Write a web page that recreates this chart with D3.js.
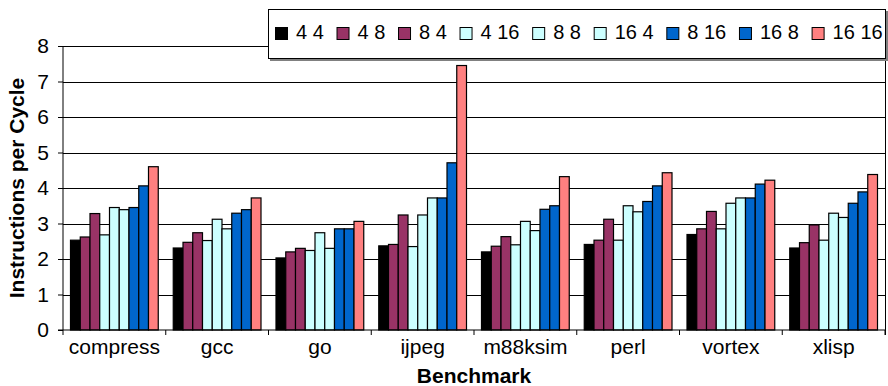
<!DOCTYPE html>
<html>
<head>
<meta charset="utf-8">
<script src="https://cdn.jsdelivr.net/npm/d3@7"></script>
<style>
  *{box-sizing: border-box;}
  body{ margin: 0; padding: 0; background: #fff; }
  svg{ display: block; font-family: "Liberation Sans", Arial, sans-serif; }
</style>
</head>
<body>
<svg id="chart" width="888" height="386"></svg>
<script>
  // benchmarks along the x axis
  const benchmarks = ['compress', 'gcc', 'go', 'ijpeg', 'm88ksim', 'perl', 'vortex', 'xlisp'];

  // legend labels, one per series
  const seriesNames = ['4 4', '4 8', '8 4', '4 16', '8 8', '16 4', '8 16', '16 8', '16 16'];
  const seriesColors = ['#000000', '#993366', '#993366', '#CCFFFF', '#CCFFFF', '#CCFFFF', '#0066CC', '#0066CC', '#FF8080'];

  // IPC per series, in benchmark order
  const s4_4   = [2.53, 2.31, 2.03, 2.37, 2.20, 2.41, 2.69, 2.31];
  const s4_8   = [2.62, 2.47, 2.20, 2.41, 2.36, 2.53, 2.85, 2.46];
  const s8_4   = [3.28, 2.74, 2.30, 3.24, 2.63, 3.12, 3.34, 2.96];
  const s4_16  = [2.68, 2.52, 2.24, 2.35, 2.40, 2.53, 2.85, 2.53];
  const s8_8   = [3.45, 3.12, 2.74, 3.24, 3.06, 3.50, 3.57, 3.29];
  const s16_4  = [3.39, 2.85, 2.30, 3.72, 2.80, 3.33, 3.72, 3.17];
  const s8_16  = [3.45, 3.29, 2.85, 3.72, 3.40, 3.62, 3.72, 3.57];
  const s16_8  = [4.06, 3.39, 2.85, 4.71, 3.50, 4.06, 4.11, 3.89];
  const s16_16 = [4.60, 3.72, 3.06, 7.45, 4.32, 4.43, 4.22, 4.38];
  const seriesValues = [s4_4, s4_8, s8_4, s4_16, s8_8, s16_4, s8_16, s16_8, s16_16];

  const yTicks = [0, 1, 2, 3, 4, 5, 6, 7, 8];

  const svg = d3.select('#chart');
  const plotL = 63, plotR = 885, plotT = 46, plotB = 330;

  const x0 = d3.scaleBand().domain(benchmarks).range([plotL, plotR]).padding(0);
  const x1 = d3.scaleBand().domain(seriesNames).range([7.5, x0.bandwidth() - 7.5]).padding(0);
  const y = d3.scaleLinear().domain([0, 8]).range([plotB, plotT]);

  // gridlines
  svg.append('g')
    .selectAll('line')
    .data(yTicks.slice(1))
    .enter()
    .append('line')
      .attr('x1', plotL).attr('x2', plotR)
      .attr('y1', d => Math.round(y(d)) + 0.5).attr('y2', d => Math.round(y(d)) + 0.5)
      .attr('stroke', '#000').attr('stroke-width', 1);

  // right border of plot
  svg.append('line')
    .attr('x1', plotR + 0.5).attr('x2', plotR + 0.5).attr('y1', plotT).attr('y2', plotB + 5)
    .attr('stroke', '#000');

  // bars
  const rows = benchmarks.map((b, i) => ({ b, vals: seriesNames.map((s, j) => ({ s, j, v: seriesValues[j][i] })) }));
  svg.append('g')
    .selectAll('g')
    .data(rows)
    .enter()
    .append('g')
      .attr('transform', d => `translate(${x0(d.b)},0)`)
    .selectAll('rect')
    .data(d => d.vals)
    .enter()
    .append('rect')
      .attr('x', d => x1(d.s))
      .attr('y', d => y(d.v))
      .attr('width', x1.bandwidth())
      .attr('height', d => y(0) - y(d.v))
      .attr('fill', d => seriesColors[d.j])
      .attr('stroke', '#000')
      .attr('stroke-width', 1.2);

  // y axis
  const yAxis = svg.append('g')
    .attr('transform', `translate(${plotL},0)`)
    .call(d3.axisLeft(y).tickValues(yTicks).tickFormat(d3.format('d')).tickSize(5).tickPadding(9));
  yAxis.select('.domain').attr('stroke', '#000').attr('d', `M-5,${plotB}H0V${plotT}`);
  yAxis.selectAll('text').attr('font-size', 21).attr('font-family', '"Liberation Sans", Arial, sans-serif').attr('fill', '#000');
  yAxis.selectAll('.tick line').attr('stroke', '#000');

  // x axis (labels centred, ticks at group boundaries)
  const xAxis = svg.append('g')
    .attr('transform', `translate(0,${plotB})`)
    .call(d3.axisBottom(x0).tickSize(0).tickPadding(9));
  xAxis.select('.domain').attr('stroke', '#000').attr('d', `M${plotL},0H${plotR}`);
  xAxis.selectAll('text').attr('font-size', 21).attr('font-family', '"Liberation Sans", Arial, sans-serif').attr('fill', '#000');
  const bounds = benchmarks.map(b => x0(b)).concat([x0.range()[1]]);
  xAxis.append('g')
    .selectAll('line')
    .data(bounds)
    .enter()
    .append('line')
      .attr('x1', d => d).attr('x2', d => d)
      .attr('y1', 0).attr('y2', 5)
      .attr('stroke', '#000');

  // axis titles
  svg.append('text')
    .attr('x', (plotL + plotR) / 2).attr('y', 383)
    .attr('text-anchor', 'middle')
    .attr('font-size', 21).attr('font-weight', 'bold')
    .text('Benchmark');
  svg.append('text')
    .attr('transform', `translate(24,${(plotT + plotB) / 2}) rotate(-90)`)
    .attr('text-anchor', 'middle')
    .attr('font-size', 21).attr('font-weight', 'bold')
    .text('Instructions per Cycle');

  // legend
  const lg = svg.append('g');
  lg.append('rect')
    .attr('x', 270).attr('y', 11).attr('width', 618).attr('height', 50)
    .attr('fill', '#808080');
  lg.append('rect')
    .attr('x', 268.5).attr('y', 9.5).attr('width', 617).attr('height', 49)
    .attr('fill', '#fff').attr('stroke', '#000');

  let cx = 275;
  seriesNames.forEach((s, i) => {
    lg.append('rect')
      .attr('x', cx + 0.5).attr('y', 27.5).attr('width', 12).attr('height', 12)
      .attr('fill', seriesColors[i]).attr('stroke', '#000');
    const t = lg.append('text')
      .attr('x', cx + 21).attr('y', 39)
      .attr('font-size', 20)
      .text(s);
    cx += 21 + t.node().getComputedTextLength() + 12.7;
  });
</script>
</body>
</html>
